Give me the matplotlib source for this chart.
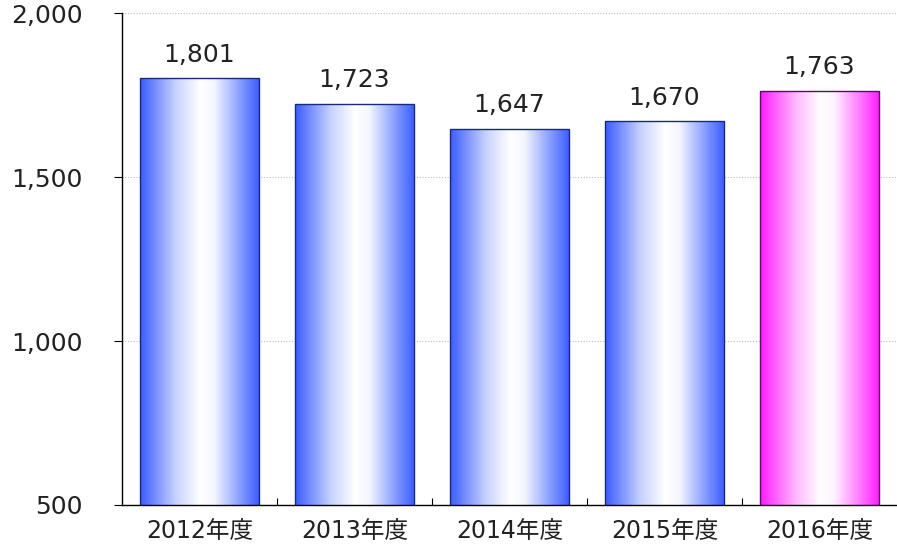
import numpy as np
import matplotlib.pyplot as plt
from matplotlib.colors import LinearSegmentedColormap
from matplotlib.ticker import FuncFormatter

plt.rcParams['font.family'] = ['DejaVu Sans', 'Noto Sans CJK JP']

# 年度別の件数
years = ['2012年度', '2013年度', '2014年度', '2015年度', '2016年度']
values = [1801, 1723, 1647, 1670, 1763]
highlight = [False, False, False, False, True]

blue_cmap = LinearSegmentedColormap.from_list(
    'blue_grad', [(0.0, '#3a5cff'), (0.3, '#c8d2ff'), (0.5, '#ffffff'),
                  (0.62, '#f4f6ff'), (0.85, '#8097ff'), (1.0, '#3a5cff')])
pink_cmap = LinearSegmentedColormap.from_list(
    'pink_grad', [(0.0, '#ff1cff'), (0.3, '#ffb8ff'), (0.5, '#ffffff'),
                  (0.62, '#fff2ff'), (0.85, '#ff70ff'), (1.0, '#ff1cff')])

fig = plt.figure(figsize=(8.97, 5.48), dpi=100)
ax = fig.add_axes([122 / 897, 43 / 548, 775 / 897, 492 / 548])

ymin, ymax = 500, 2000
width = 0.774
x = np.arange(len(years))
bars = ax.bar(x, values, width=width, bottom=0, color='none', zorder=3)

grad = np.linspace(0, 1, 256).reshape(1, -1)
for rect, v, hl in zip(bars, values, highlight):
    x0 = rect.get_x()
    cmap = pink_cmap if hl else blue_cmap
    edge = '#5a0a6a' if hl else '#1a2a7a'
    im = ax.imshow(grad, cmap=cmap, aspect='auto',
                   extent=[x0, x0 + width, ymin, v], zorder=2)
    im.set_clip_path(rect)
    rect.set_edgecolor(edge)
    rect.set_linewidth(1.0)
    ax.text(x0 + width / 2, v + 35, f'{v:,}', ha='center', va='bottom',
            fontsize=18, color='#222222')

ax.set_xlim(-0.5, len(years) - 0.5)
ax.set_ylim(ymin, ymax)
ax.set_yticks([500, 1000, 1500, 2000])
ax.yaxis.set_major_formatter(FuncFormatter(lambda v, p: f'{int(v):,}'))
ax.set_xticks(x)
ax.set_xticklabels(years)
ax.set_xticks(np.arange(0.5, len(years) - 1, 1), minor=True)
ax.tick_params(axis='x', which='major', length=0, pad=10, labelsize=17,
               labelcolor='#222222')
ax.tick_params(axis='x', which='minor', direction='in', length=5, width=0.8)
ax.tick_params(axis='y', direction='out', length=6, width=0.8, pad=22,
               labelsize=18, labelcolor='#222222')

ax.grid(axis='y', linestyle=(0, (1, 1.5)), color='#bbbbbb', linewidth=0.8, zorder=0)
ax.spines['top'].set_visible(False)
ax.spines['right'].set_visible(False)
for s in ('left', 'bottom'):
    ax.spines[s].set_linewidth(1.0)
    ax.spines[s].set_zorder(4)

fig.savefig('out.png', dpi=100)
